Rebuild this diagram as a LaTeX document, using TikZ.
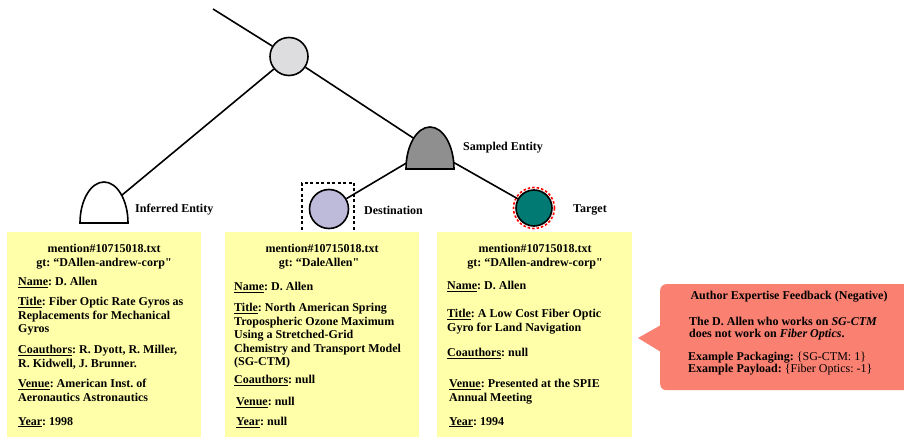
\documentclass[tikz,border=0pt]{standalone}
\usepackage{fontspec}
\setmainfont{Liberation Serif}
\usetikzlibrary{positioning}
\frenchspacing

\definecolor{noteyellow}{RGB}{255,255,170}
\definecolor{feedbackred}{RGB}{250,128,114}
\definecolor{rootgray}{RGB}{221,221,223}
\definecolor{domegray}{RGB}{143,143,143}
\definecolor{destpurple}{RGB}{190,186,218}
\definecolor{targetteal}{RGB}{0,122,115}

\tikzset{
  treeline/.style={line width=1.6pt},
  entity/.style={circle, draw=black, line width=1.6pt, minimum size=38pt, inner sep=0pt},
  lbl/.style={anchor=west, inner sep=0pt, font=\bfseries\fontsize{12}{14}\selectfont},
  card/.style={fill=noteyellow, anchor=north west, minimum width=194pt, minimum height=205pt, inner sep=0pt},
  cardhead/.style={inner sep=0pt, font=\bfseries\fontsize{12}{14}\selectfont},
  field/.style={anchor=north west, align=left, inner sep=0pt, font=\bfseries\fontsize{12}{13.5}\selectfont},
}

\begin{document}
\begin{tikzpicture}[x=1pt, y=-1pt]
\useasboundingbox (0,0) rectangle (904,438);

% Entities
\coordinate (topend) at (213,9);
\node[entity, fill=rootgray] (root) at (289,56.5) {};
\node[draw, dashed, dash pattern=on 3pt off 2.5pt, line width=1.5pt, minimum width=52pt, minimum height=50pt] (destbox) at (328,208) {};
\node[entity, fill=destpurple, minimum size=39pt] (dest) at (329,209) {};
\node[circle, draw=red, dash pattern=on 2.5pt off 2pt, line width=1.6pt, minimum size=41pt, inner sep=0pt] (targetring) at (534,208) {};
\node[entity, fill=targetteal, minimum size=36pt] (target) at (534,208) {};
\coordinate (inferred) at (104,210);
\coordinate (sampled) at (430,149);

% Tree edges
\draw[treeline] (topend) -- (root);
\draw[treeline] (root) -- (inferred);
\draw[treeline] (root) -- (sampled);
\draw[treeline] (sampled) -- (dest);
\draw[treeline] (sampled) -- (target);

% Domes
\draw[treeline, fill=white] (80,223) arc[start angle=180, end angle=0, x radius=24pt, y radius=41pt] -- cycle;
\draw[treeline, fill=domegray] (406,169) arc[start angle=180, end angle=0, x radius=24pt, y radius=42pt] -- cycle;

% Labels
\node[lbl] (inferredlbl) at (135,210) {Inferred Entity};
\node[lbl] (sampledlbl) at (463,148) {Sampled Entity};
\node[lbl] (destlbl) at (364,210) {Destination};
\node[lbl] (targetlbl) at (573,210) {Target};

% Mention cards
\node[card] (card1) at (7,232) {};
\node[card] (card2) at (225,232) {};
\node[card, minimum width=195pt] (card3) at (437,232) {};

\node[cardhead] (mention1) at (104,248) {mention\#10715018.txt};
\node[cardhead] (gt1) at (104,264) {gt: “DAllen-andrew-corp\textquotedbl};
\node[field] (name1) at (18,277) {\underline{Name}: D. Allen};
\node[field] (title1) at (18,297) {\underline{Title}: Fiber Optic Rate Gyros as\\Replacements for Mechanical\\Gyros};
\node[field] (coauth1) at (18,345) {\underline{Coauthors}: R. Dyott, R. Miller,\\R. Kidwell, J. Brunner.};
\node[field] (venue1) at (18,379) {\underline{Venue}: American Inst. of\\Aeronautics Astronautics};
\node[field] (year1) at (18,417) {\underline{Year}: 1998};

\node[cardhead] (mention2) at (322,248) {mention\#10715018.txt};
\node[cardhead] (gt2) at (319,264) {gt: “DaleAllen\textquotedbl};
\node[field] (name2) at (234,282) {\underline{Name}: D. Allen};
\node[field] (title2) at (234,303) {\underline{Title}: North American Spring\\Tropospheric Ozone Maximum\\Using a Stretched-Grid\\Chemistry and Transport Model\\(SG-CTM)};
\node[field] (coauth2) at (234,375) {\underline{Coauthors}: null};
\node[field] (venue2) at (236,397) {\underline{Venue}: null};
\node[field] (year2) at (236,417) {\underline{Year}: null};

\node[cardhead] (mention3) at (535,248) {mention\#10715018.txt};
\node[cardhead] (gt3) at (535,264) {gt: “DAllen-andrew-corp\textquotedbl};
\node[field] (name3) at (447,281) {\underline{Name}: D. Allen};
\node[field] (title3) at (447,309) {\underline{Title}: A Low Cost Fiber Optic\\Gyro for Land Navigation};
\node[field] (coauth3) at (447,348) {\underline{Coauthors}: null};
\node[field] (venue3) at (449,379) {\underline{Venue}: Presented at the SPIE\\Annual Meeting};
\node[field] (year3) at (449,417) {\underline{Year}: 1994};

% Feedback callout
\node[fill=feedbackred, rounded corners=6pt, anchor=north west, minimum width=256pt, minimum height=106pt, inner sep=0pt] (feedback) at (660,284) {};
\coordinate (tip) at (638,338);
\fill[feedbackred] (661,325) -- (tip) -- (661,352) -- cycle;
\node[cardhead] (fbtitle) at (789,297) {Author Expertise Feedback (Negative)};
\node[field, font=\bfseries\fontsize{12}{11.5}\selectfont] (fbclaim) at (689,317) {The D. Allen who works on \textit{SG-CTM}\\does not work on \textit{Fiber Optics}.};
\node[field, font=\fontsize{12}{11.5}\selectfont] (fbexample) at (688,352) {\textbf{Example Packaging:} \{SG-CTM: 1\}\\\textbf{Example Payload:} \{Fiber Optics: -1\}};

\end{tikzpicture}
\end{document}
